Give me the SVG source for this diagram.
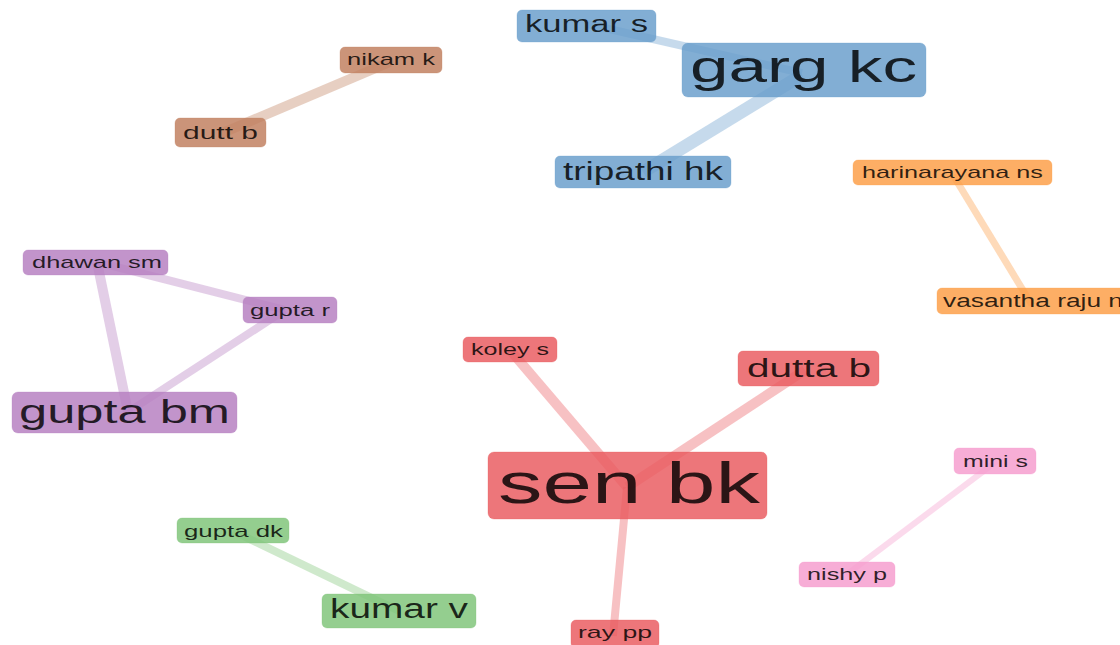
<svg xmlns="http://www.w3.org/2000/svg" width="1120" height="645" viewBox="0 0 1120 645">
<style>
.e{fill:none;stroke-linecap:butt;stroke-opacity:0.38}
.n rect{fill-opacity:0.84;stroke-opacity:0.3;stroke-width:1}
.n text{font-family:"Liberation Sans",Arial,sans-serif;fill:#000;fill-opacity:0.82}
.blue{fill:#6a9fcc;stroke:#6a9fcc}.bs{stroke:#6a9fcc}
.red{fill:#e95c60;stroke:#e95c60}.rs{stroke:#e95c60}
.pur{fill:#b67fc1;stroke:#b67fc1}.ps{stroke:#b67fc1}
.ora{fill:#fd9f48;stroke:#fd9f48}.os{stroke:#fd9f48}
.bro{fill:#c1805f;stroke:#c1805f}.brs{stroke:#c1805f}
.gre{fill:#80c579;stroke:#80c579}.gs{stroke:#80c579}
.pin{fill:#f59dce;stroke:#f59dce}.pis{stroke:#f59dce}
</style>
<rect width="1120" height="645" fill="#fff"/>
<g id="connectors">
<line class="e bs" x1="587" y1="24" x2="802" y2="73" stroke-width="8"/>
<line class="e bs" x1="643" y1="172" x2="802" y2="75" stroke-width="13"/>
<line class="e brs" x1="390" y1="62" x2="220" y2="134" stroke-width="10"/>
<line class="e os" x1="953" y1="175" x2="1032" y2="305" stroke-width="7"/>
<line class="e ps" x1="97" y1="262" x2="128" y2="412" stroke-width="10"/>
<line class="e ps" x1="97" y1="262" x2="285" y2="310" stroke-width="8"/>
<line class="e ps" x1="285" y1="310" x2="128" y2="412" stroke-width="8"/>
<line class="e rs" x1="510" y1="350" x2="627" y2="487" stroke-width="10"/>
<line class="e rs" x1="805" y1="370" x2="627" y2="487" stroke-width="10"/>
<line class="e rs" x1="613" y1="636" x2="627" y2="487" stroke-width="8"/>
<line class="e pis" x1="997" y1="461" x2="846" y2="575" stroke-width="6"/>
<line class="e gs" x1="233" y1="531" x2="399" y2="611" stroke-width="8"/>
</g>
<g id="garg-kc" class="n"><rect class="blue" x="682" y="43" width="244" height="54" rx="6"/><text x="690" y="82" font-size="45" textLength="227" lengthAdjust="spacingAndGlyphs">garg kc</text></g>
<g id="kumar-s" class="n"><rect class="blue" x="517" y="10" width="139" height="32" rx="5"/><text x="525" y="32" font-size="23" textLength="123" lengthAdjust="spacingAndGlyphs">kumar s</text></g>
<g id="tripathi-hk" class="n"><rect class="blue" x="555" y="156" width="176" height="32" rx="5"/><text x="563" y="180" font-size="25" textLength="160" lengthAdjust="spacingAndGlyphs">tripathi hk</text></g>
<g id="nikam-k" class="n"><rect class="bro" x="340" y="47" width="102" height="26" rx="5"/><text x="347" y="65" font-size="17" textLength="88" lengthAdjust="spacingAndGlyphs">nikam k</text></g>
<g id="dutt-b" class="n"><rect class="bro" x="175" y="118" width="91" height="29" rx="5"/><text x="183" y="139" font-size="19" textLength="75" lengthAdjust="spacingAndGlyphs">dutt b</text></g>
<g id="harinarayana-ns" class="n"><rect class="ora" x="853" y="160" width="199" height="25" rx="5"/><text x="862" y="178" font-size="17" textLength="181" lengthAdjust="spacingAndGlyphs">harinarayana ns</text></g>
<g id="vasantha-raju-n" class="n"><rect class="ora" x="937" y="288" width="190" height="26" rx="5"/><text x="943" y="307" font-size="18" textLength="180" lengthAdjust="spacingAndGlyphs">vasantha raju n</text></g>
<g id="dhawan-sm" class="n"><rect class="pur" x="23" y="250" width="145" height="25" rx="5"/><text x="32" y="268" font-size="17" textLength="130" lengthAdjust="spacingAndGlyphs">dhawan sm</text></g>
<g id="gupta-r" class="n"><rect class="pur" x="243" y="297" width="94" height="26" rx="5"/><text x="250" y="316" font-size="16" textLength="80" lengthAdjust="spacingAndGlyphs">gupta r</text></g>
<g id="gupta-bm" class="n"><rect class="pur" x="12" y="392" width="225" height="41" rx="6"/><text x="19" y="423" font-size="33" textLength="211" lengthAdjust="spacingAndGlyphs">gupta bm</text></g>
<g id="koley-s" class="n"><rect class="red" x="463" y="337" width="94" height="25" rx="5"/><text x="471" y="355" font-size="16" textLength="78" lengthAdjust="spacingAndGlyphs">koley s</text></g>
<g id="dutta-b" class="n"><rect class="red" x="738" y="351" width="141" height="35" rx="5"/><text x="747" y="377" font-size="26" textLength="124" lengthAdjust="spacingAndGlyphs">dutta b</text></g>
<g id="sen-bk" class="n"><rect class="red" x="488" y="452" width="279" height="67" rx="6"/><text x="498" y="503" font-size="57" textLength="262" lengthAdjust="spacingAndGlyphs">sen bk</text></g>
<g id="ray-pp" class="n"><rect class="red" x="571" y="620" width="88" height="28" rx="5"/><text x="578" y="638" font-size="17" textLength="74" lengthAdjust="spacingAndGlyphs">ray pp</text></g>
<g id="mini-s" class="n"><rect class="pin" x="954" y="448" width="82" height="26" rx="5"/><text x="963" y="467" font-size="17" textLength="65" lengthAdjust="spacingAndGlyphs">mini s</text></g>
<g id="nishy-p" class="n"><rect class="pin" x="799" y="562" width="96" height="25" rx="5"/><text x="807" y="580" font-size="17" textLength="80" lengthAdjust="spacingAndGlyphs">nishy p</text></g>
<g id="gupta-dk" class="n"><rect class="gre" x="177" y="518" width="112" height="25" rx="5"/><text x="184" y="537" font-size="17" textLength="99" lengthAdjust="spacingAndGlyphs">gupta dk</text></g>
<g id="kumar-v" class="n"><rect class="gre" x="322" y="594" width="154" height="34" rx="5"/><text x="330" y="618" font-size="27" textLength="138" lengthAdjust="spacingAndGlyphs">kumar v</text></g>
</svg>
